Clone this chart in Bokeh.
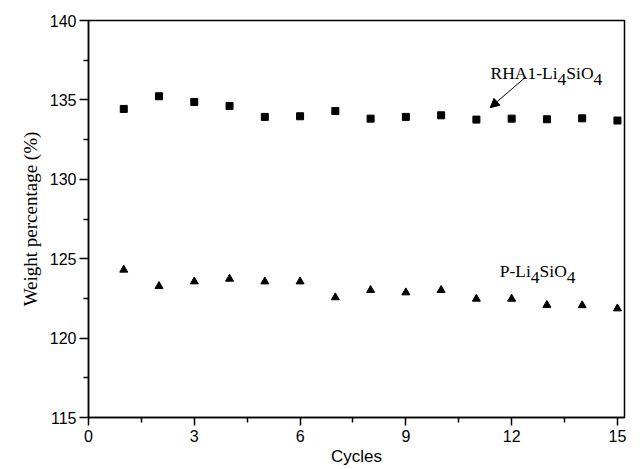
from bokeh.plotting import figure
from bokeh.models import Range1d, FixedTicker, Label, Arrow, NormalHead, ColumnDataSource
from bokeh.embed import file_html
from bokeh.resources import INLINE

# ---- data ----
cycles = list(range(1, 16))
rha1_li4sio4 = [134.43, 135.23, 134.87, 134.62, 133.93, 133.97, 134.30, 133.82,
                133.93, 134.03, 133.76, 133.82, 133.78, 133.84, 133.70]
p_li4sio4 = [124.30, 123.27, 123.56, 123.73, 123.56, 123.56, 122.56, 123.02,
             122.87, 123.02, 122.47, 122.47, 122.08, 122.06, 121.86]
x_ticks = [0, 3, 6, 9, 12, 15]
x_minor = [1.5, 4.5, 7.5, 10.5, 13.5]
y_ticks = [115, 120, 125, 130, 135, 140]
y_minor = [117.5, 122.5, 127.5, 132.5, 137.5]

p = figure(width=640, height=469, output_backend="svg", toolbar_location=None,
           x_range=Range1d(0, 15.2), y_range=Range1d(115, 140),
           min_border_left=88, min_border_right=16, min_border_top=20, min_border_bottom=52)
p.xgrid.visible = False
p.ygrid.visible = False
p.outline_line_color = "black"
p.outline_line_width = 1.5
p.background_fill_color = "white"
p.border_fill_color = "white"

src = ColumnDataSource(dict(x=cycles, a=rha1_li4sio4, b=p_li4sio4))
p.scatter("x", "a", source=src, marker="square", size=7, color="black")
p.scatter("x", "b", source=src, marker="triangle", size=8, color="black")

for ax in (p.xaxis[0], p.yaxis[0]):
    ax.axis_line_color = "black"
    ax.axis_line_width = 1.5
    ax.major_tick_line_color = "black"
    ax.minor_tick_line_color = "black"
    ax.major_tick_line_width = 1.5
    ax.minor_tick_line_width = 1.5
    ax.major_tick_in = 0
    ax.minor_tick_in = 0
    ax.major_label_text_font = "Liberation Sans"
    ax.major_label_text_font_size = "16px"
    ax.major_label_text_color = "black"
    ax.axis_label_text_font_style = "normal"
    ax.axis_label_text_color = "black"

p.xaxis.ticker = FixedTicker(ticks=x_ticks, minor_ticks=x_minor)
p.yaxis.ticker = FixedTicker(ticks=y_ticks, minor_ticks=y_minor)

p.xaxis.major_tick_out = 8
p.xaxis.minor_tick_out = 5
p.xaxis.major_label_standoff = 4
p.xaxis.axis_label = "Cycles"
p.xaxis.axis_label_text_font = "Liberation Sans"
p.xaxis.axis_label_text_font_size = "17px"
p.xaxis.axis_label_standoff = 2

p.yaxis.major_tick_out = 9
p.yaxis.minor_tick_out = 5
p.yaxis.major_label_standoff = 3
p.yaxis.axis_label = "Weight percentage (%)"
p.yaxis.axis_label_text_font = "Liberation Serif"
p.yaxis.axis_label_text_font_size = "19px"
p.yaxis.axis_label_standoff = 6

# ---- annotations ----
FONT = "Liberation Serif"
FS = "17.5px"
def chem_label(x, y, parts):
    off = 0.0
    for txt, sub, w in parts:
        p.add_layout(Label(x=x, y=y, x_offset=off, y_offset=(-6.5 if sub else 0),
                           text=txt, text_font=FONT, text_font_size=FS,
                           text_color="black", text_baseline="alphabetic"))
        off += w

em = 17.5
chem_label(11.40, 136.69, [("RHA1-Li", False, 3.833 * em), ("4", True, 0.5 * em),
                           ("SiO", False, 1.556 * em), ("4", True, 0.5 * em)])
chem_label(11.66, 124.23, [("P-Li", False, 1.778 * em), ("4", True, 0.5 * em),
                           ("SiO", False, 1.556 * em), ("4", True, 0.5 * em)])

p.add_layout(Arrow(end=NormalHead(size=9, fill_color="black", line_color="black", line_width=1),
                   x_start=12.41, y_start=136.46, x_end=11.39, y_end=134.51,
                   line_color="black", line_width=1))

open("out.html", "w").write(file_html(p, INLINE))
